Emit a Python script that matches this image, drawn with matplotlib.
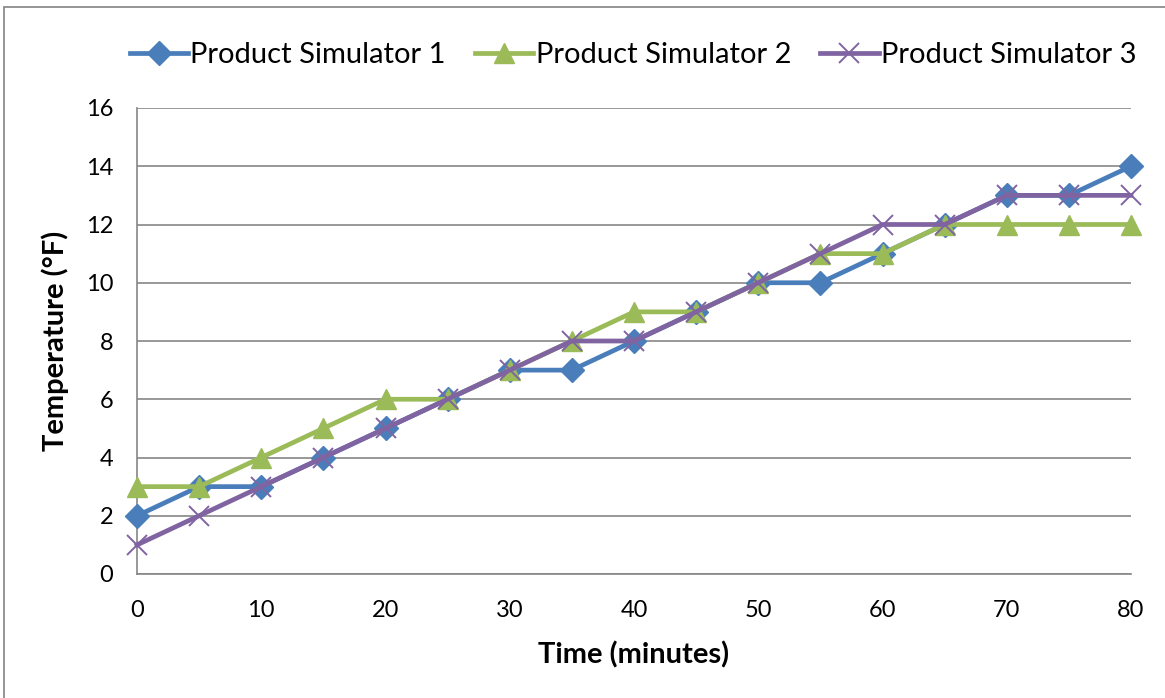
import matplotlib
matplotlib.use("Agg")
import matplotlib.pyplot as plt
from matplotlib.patches import Rectangle

time_min = [0, 5, 10, 15, 20, 25, 30, 35, 40, 45, 50, 55, 60, 65, 70, 75, 80]
sim1 = [2, 3, 3, 4, 5, 6, 7, 7, 8, 9, 10, 10, 11, 12, 13, 13, 14]
sim2 = [3, 3, 4, 5, 6, 6, 7, 8, 9, 9, 10, 11, 11, 12, 12, 12, 12]
sim3 = [1, 2, 3, 4, 5, 6, 7, 8, 8, 9, 10, 11, 12, 12, 13, 13, 13]
labels = ["Product Simulator 1", "Product Simulator 2", "Product Simulator 3"]
x_ticks = [0, 10, 20, 30, 40, 50, 60, 70, 80]
y_ticks = [0, 2, 4, 6, 8, 10, 12, 14, 16]

plt.rcParams['font.family'] = ['Lato', 'DejaVu Sans']

W, H = 1165, 698
fig = plt.figure(figsize=(W / 100, H / 100), dpi=100)
fig.patch.set_facecolor("white")

# outer chart frame (runs off the right and bottom edges)
fig.patches.append(Rectangle((4 / W, -0.05), 1.2, (H - 7) / H + 0.05,
                             transform=fig.transFigure, fill=False,
                             edgecolor="#8c8c8c", linewidth=1.3))

ax = fig.add_axes([137 / W, 1 - 574 / H, (1131 - 137) / W, (574 - 108) / H])

grid_c = "#868686"
ax.set_xlim(0, 80)
ax.set_ylim(0, 16)
ax.set_yticks(y_ticks)
ax.set_xticks(x_ticks)
ax.yaxis.grid(True, color=grid_c, linewidth=1.2)
ax.set_axisbelow(True)
for s in ["top", "right"]:
    ax.spines[s].set_visible(False)
for s in ["left", "bottom"]:
    ax.spines[s].set_color(grid_c)
    ax.spines[s].set_linewidth(1.2)
ax.tick_params(length=0, labelsize=17, colors="black")
ax.tick_params(axis="y", pad=17)
ax.tick_params(axis="x", pad=19)

lw = 3.4
ax.plot(time_min, sim1, color="#4A7EBB", linewidth=lw, marker="D",
        markersize=12, label=labels[0], clip_on=False, zorder=3)
ax.plot(time_min, sim2, color="#9BBB59", linewidth=lw, marker="^",
        markersize=14, label=labels[1], clip_on=False, zorder=3)
ax.plot(time_min, sim3, color="#8064A2", linewidth=lw, marker="x",
        markersize=14, markeredgewidth=1.4, label=labels[2], clip_on=False,
        zorder=4)

ax.set_xlabel("Time (minutes)", fontsize=21, fontweight="bold", labelpad=14)
ax.set_ylabel("Temperature (°F)", fontsize=21, fontweight="bold", labelpad=12)

fig.legend(loc="center", bbox_to_anchor=(633 / W, 1 - 55 / H), ncol=3,
           frameon=False, fontsize=21, handlelength=2.0, handletextpad=0.08,
           columnspacing=1.0)

fig.savefig("out.png", dpi=100, facecolor="white")
